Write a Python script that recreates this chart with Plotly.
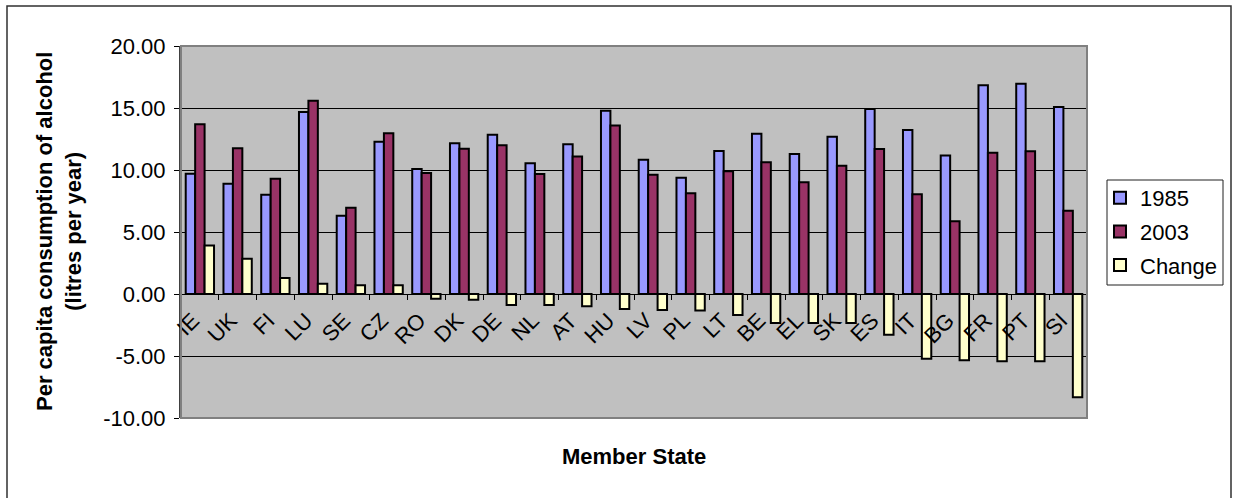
import plotly.graph_objects as go

# per capita alcohol consumption (litres per year)
states = ["IE", "UK", "FI", "LU", "SE", "CZ", "RO", "DK", "DE", "NL", "AT", "HU", "LV",
          "PL", "LT", "BE", "EL", "SK", "ES", "IT", "BG", "FR", "PT", "SI"]
val_1985 = [9.70, 8.90, 8.01, 14.68, 6.32, 12.28, 10.08, 12.15, 12.85, 10.54, 12.07, 14.78, 10.83,
            9.38, 11.53, 12.93, 11.29, 12.69, 14.92, 13.23, 11.16, 16.83, 16.96, 15.08]
val_2003 = [13.68, 11.75, 9.30, 15.59, 6.96, 12.96, 9.76, 11.72, 11.99, 9.68, 11.08, 13.58, 9.62,
            8.12, 9.89, 10.62, 9.01, 10.35, 11.69, 8.04, 5.86, 11.40, 11.51, 6.72]
val_change = [3.92, 2.85, 1.29, 0.83, 0.70, 0.70, -0.38, -0.46, -0.89, -0.89, -0.99, -1.21, -1.29,
              -1.34, -1.69, -2.34, -2.34, -2.34, -3.28, -5.22, -5.35, -5.43, -5.43, -8.33]

y_ticks = [-10, -5, 0, 5, 10, 15, 20]
y_tick_labels = ["-10.00", "-5.00", "0.00", "5.00", "10.00", "15.00", "20.00"]

series = [("1985", val_1985, "#9999FF"),
          ("2003", val_2003, "#993366"),
          ("Change", val_change, "#FFFFCC")]

FONT = "Arial, Liberation Sans, sans-serif"

fig = go.Figure()
for name, vals, col in series:
    fig.add_trace(go.Bar(
        x=states, y=vals, name=name, legendgroup=name,
        marker=dict(color=col, line=dict(color="black", width=2))
    ))

fig.update_layout(
    width=1236, height=498,
    margin=dict(l=181, r=149, t=46, b=80, autoexpand=False),
    paper_bgcolor="white",
    plot_bgcolor="#C0C0C0",
    font=dict(family=FONT, size=22, color="black"),
    barmode="group",
    bargap=0.25,
    bargroupgap=0,
    showlegend=True,
    # legend box itself is drawn as a shape so the entries can sit a bit further left
    legend=dict(x=(1100 - 181) / 906, y=(418 - 177) / 372, xanchor="left", yanchor="top",
                borderwidth=0, bgcolor="rgba(0,0,0,0)",
                tracegroupgap=2, font=dict(size=22)),
    xaxis=dict(
        type="category", anchor="free", position=1 / 3, automargin=False,
        showline=True, linecolor="black", linewidth=1,
        ticks="outside", tickson="boundaries", ticklen=5, tickcolor="black",
        tickangle=-45, showgrid=False, zeroline=False,
        ticklabelstandoff=4, ticklabelshift=-7
    ),
    yaxis=dict(
        range=[-10, 20], tickvals=y_ticks, ticktext=y_tick_labels, automargin=False,
        showgrid=True, gridcolor="black", gridwidth=1, zeroline=False,
        showline=True, linecolor="#404040", linewidth=2,
        ticks="outside", ticklen=5, tickcolor="black", ticklabelstandoff=4
    ),
    shapes=[
        dict(type="rect", xref="paper", yref="paper", x0=0, x1=1, y0=0, y1=1,
             line=dict(color="#808080", width=2), layer="above"),
        dict(type="rect", xref="paper", yref="paper",
             x0=(7 - 181) / 906, x1=(1231 - 181) / 906, y0=-0.4, y1=(418 - 6) / 372,
             line=dict(color="#303030", width=1.5)),
        dict(type="rect", xref="paper", yref="paper",
             x0=(1107 - 181) / 906, x1=(1223 - 181) / 906,
             y0=(418 - 285) / 372, y1=(418 - 180) / 372,
             line=dict(color="#202020", width=1))
    ],
    annotations=[
        dict(text="<b>Per capita consumption of alcohol<br>(litres per year)</b>",
             xref="paper", yref="paper", x=(59 - 181) / 906, y=0.5, textangle=-90,
             showarrow=False, xanchor="center", yanchor="middle", font=dict(size=22)),
        dict(text="<b>Member State</b>", xref="paper", yref="paper",
             x=0.5, y=(418 - 457) / 372, showarrow=False,
             xanchor="center", yanchor="middle", font=dict(size=22))
    ]
)

# the page's default body margin would shift the figure by 8px
fig.write_html("out.html", config={"displayModeBar": False},
               post_script="document.body.style.margin='0px';")
